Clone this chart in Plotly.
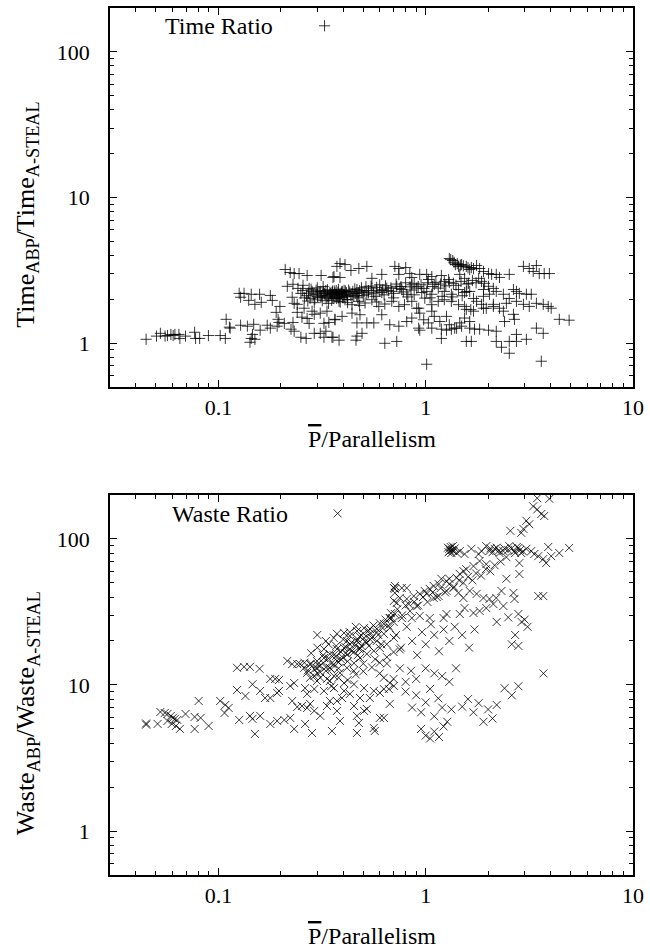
import plotly.graph_objects as go

# ---------------- data ----------------
time_ratio_points = [
    # far-left tail
    (0.0448,1.065),(0.0503,1.12),(0.0525,1.17),(0.0553,1.12),(0.0568,1.13),(0.059,1.15),(0.0605,1.13),
    (0.0617,1.15),(0.0645,1.15),(0.0652,1.08),(0.0694,1.12),(0.0768,1.19),(0.0776,1.08),(0.0812,1.08),
    (0.0895,1.13),(0.102,1.13),(0.108,1.08),(0.109,1.46),(0.113,1.29),
    # 0.11 - 0.37
    (0.210,3.21),(0.222,3.06),(0.232,3.01),(0.245,3.01),(0.268,2.92),(0.313,2.92),(0.357,2.83),
    (0.126,2.20),(0.133,2.20),(0.144,2.17),(0.158,2.17),(0.178,2.13),(0.128,2.07),(0.140,1.97),
    (0.150,1.85),(0.161,1.91),(0.182,1.97),(0.198,1.79),(0.190,1.63),(0.194,1.46),(0.196,1.39),
    (0.208,1.37),(0.229,1.39),
    (0.215,2.46),(0.229,2.54),(0.242,2.38),(0.256,2.50),(0.274,2.38),(0.227,2.07),(0.232,1.88),
    (0.240,1.85),(0.240,1.63),(0.253,1.51),(0.268,1.48),(0.274,1.37),(0.259,1.74),(0.283,1.66),
    (0.290,1.58),(0.310,1.61),(0.334,1.66),(0.323,1.37),(0.341,1.39),(0.365,1.46),
    (0.114,1.27),(0.128,1.33),(0.138,1.31),(0.148,1.35),(0.159,1.23),(0.172,1.33),(0.178,1.27),
    (0.192,1.31),(0.146,1.15),(0.144,1.08),(0.142,1.016),(0.150,1.065),(0.224,1.25),(0.232,1.21),
    (0.250,1.10),(0.265,1.08),(0.290,1.17),(0.310,1.17),(0.323,1.10),(0.330,1.21),(0.357,1.10),
    # dense band 0.25 - 0.5
    (0.266,2.12),(0.272,2.21),(0.277,2.04),(0.283,2.27),(0.287,2.15),(0.292,2.01),(0.296,2.31),
    (0.301,2.09),(0.306,2.22),(0.312,2.06),(0.317,1.96),(0.321,2.26),(0.327,2.14),(0.331,2.02),
    (0.336,2.33),(0.342,2.11),(0.347,2.19),(0.352,1.97),(0.356,2.07),(0.362,2.29),(0.368,2.16),
    (0.372,2.03),(0.377,2.24),(0.383,2.09),(0.387,1.92),(0.393,2.21),(0.398,2.06),(0.404,2.31),
    (0.30,2.18),(0.31,2.27),(0.315,2.12),(0.325,2.20),(0.33,2.30),(0.335,2.08),(0.345,2.24),
    (0.35,2.16),(0.355,2.28),(0.365,2.22),(0.375,2.12),(0.38,2.34),(0.385,2.18),(0.395,2.26),
    (0.405,2.15),(0.415,2.22),(0.425,2.32),(0.435,2.14),(0.445,2.27),(0.455,2.36),(0.465,2.12),
    (0.475,2.22),(0.49,2.40),(0.27,1.95),(0.29,1.90),(0.34,1.88),(0.30,2.40),(0.32,2.45),
    (0.28,2.35),(0.25,2.20),(0.255,2.30),(0.26,2.05),
    # 0.35 - 1.75
    (0.386,3.53),(0.408,3.47),(0.436,3.16),(0.476,3.26),(0.52,3.37),(0.361,2.87),(0.386,2.83),(0.373,3.37),
    (0.71,3.37),(0.742,3.26),(0.801,3.31),(0.742,2.97),(0.838,3.01),(0.857,2.83),(0.614,2.97),(0.55,2.79),
    (0.936,2.97),(1.011,2.97),(1.07,2.87),(1.19,2.92),(1.23,2.66),(1.29,2.74),(1.36,2.58),(1.10,2.54),(1.03,2.74),
    (1.30,3.82),(1.35,3.70),(1.39,3.47),(1.49,3.47),(1.57,3.37),(1.44,3.37),(1.63,3.21),
    (1.32,3.75),(1.37,3.60),(1.42,3.52),(1.47,3.44),(1.52,3.40),(1.60,3.30),(1.70,3.25),
    (1.46,2.97),(1.54,2.79),(1.61,2.58),
    (0.353,2.23),(0.373,2.17),(0.395,2.27),(0.417,2.10),(0.441,2.18),(0.466,2.34),(0.493,2.24),
    (0.52,2.17),(0.55,2.39),(0.581,2.31),(0.614,2.23),(0.649,2.39),(0.686,2.27),(0.725,2.46),
    (0.767,2.34),(0.81,2.17),(0.857,2.52),(0.905,2.39),(0.957,2.23),(1.011,2.27),(1.07,2.17),
    (1.15,2.39),(1.23,2.27),(1.33,2.17),(1.44,2.34),(1.54,2.23),(1.63,2.27),
    (0.36,2.15),(0.37,2.30),(0.38,2.05),(0.39,2.20),(0.40,2.12),(0.41,2.28),(0.42,2.00),(0.43,2.25),
    (0.45,2.10),(0.46,2.20),(0.47,2.05),(0.48,2.30),(0.50,2.12),(0.53,2.22),(0.57,2.10),(0.60,2.28),
    (0.63,2.15),(0.66,2.30),(0.70,2.20),(0.75,2.38),(0.78,2.25),(0.85,2.32),(0.92,2.45),(0.98,2.38),
    (0.505,2.28),(0.515,2.44),(0.53,2.30),(0.545,2.47),(0.56,2.21),(0.58,2.42),(0.60,2.52),(0.62,2.33),
    (0.64,2.48),(0.68,2.40),(0.72,2.55),(0.76,2.45),(0.80,2.60),(0.84,2.44),(0.88,2.58),(0.95,2.52),
    (1.02,2.60),(1.08,2.45),(1.12,2.62),(1.18,2.55),(1.25,2.48),(1.30,2.62),(1.40,2.50),(1.48,2.66),
    (1.58,2.55),(1.68,2.70),(1.75,2.60),(0.42,1.90),(0.48,1.82),(0.58,1.92),(0.70,2.05),(0.82,2.08),
    (0.88,2.15),(1.05,2.05),(1.20,2.10),(1.35,2.08),(1.50,2.12),
    (0.361,2.04),(0.382,1.94),(0.408,1.99),(0.441,1.84),(0.476,1.94),(0.51,1.89),(0.55,1.99),
    (0.594,1.79),(0.635,1.86),(0.686,1.94),(0.742,1.79),(0.79,1.84),(0.857,1.94),(0.925,1.74),
    (0.99,2.04),(1.07,1.84),(1.15,1.94),(1.23,1.99),(1.33,1.94),(1.44,1.84),(1.54,1.79),(1.65,1.70),
    (0.365,1.45),(0.395,1.53),(0.441,1.61),(0.466,1.38),(0.482,1.57),(0.52,1.38),(0.562,1.38),
    (0.614,1.57),(0.671,1.34),(0.742,1.31),(0.81,1.41),(0.857,1.49),(0.905,1.74),(0.936,1.61),
    (0.978,1.45),(1.07,1.66),(1.10,1.53),(1.17,1.41),(1.26,1.53),(1.30,1.34),(1.38,1.27),(1.46,1.38),
    (1.54,1.49),(1.63,1.41),(0.925,1.27),(1.03,1.38),
    (0.353,1.10),(0.382,1.05),(0.466,1.12),(0.461,1.05),(0.493,1.17),(0.635,1.00),(0.725,1.03),
    (1.19,1.08),(1.57,1.03),(1.011,0.718),(0.936,1.23),(1.07,1.27),(1.19,1.25),(1.26,1.23),
    (1.33,1.25),(1.41,1.27),(1.49,1.31),
    # 1.65 - 5
    (1.76,3.42),(1.82,3.26),(1.90,3.11),(2.01,3.01),(2.08,2.97),(2.19,2.97),(2.27,2.83),(2.53,2.97),(1.66,3.31),
    (1.80,2.79),(1.86,2.66),(1.92,2.58),(2.01,2.46),(2.12,2.38),(1.90,2.34),
    (2.96,3.37),(3.16,3.26),(3.42,3.42),(3.30,3.11),(3.53,3.01),(3.73,3.01),(3.95,3.01),
    (2.65,2.34),(2.74,2.27),(2.83,2.20),(3.06,2.17),(3.23,2.17),
    (2.74,1.94),(2.96,1.85),(3.16,1.79),(3.42,1.88),(3.69,1.85),(3.90,1.79),(4.03,1.74),
    (4.41,1.46),(4.92,1.44),(3.42,1.27),(3.69,1.17),
    (2.74,1.15),(2.53,1.03),(2.74,1.03),(3.06,1.065),(2.32,0.939),(2.53,0.854),(3.61,0.753),
    (1.66,1.03),(2.19,1.03),
    (1.63,1.27),(1.72,1.25),(1.82,1.25),(2.01,1.23),(2.19,1.21),(2.40,1.41),(2.68,1.46),
    (1.57,1.71),(1.70,1.66),(1.90,1.74),(2.12,1.79),(2.37,1.66),(2.65,1.58),
    (1.76,1.94),(1.86,1.85),(1.96,1.74),(2.12,1.85),(2.27,1.74),(2.45,1.88),(2.19,2.27),(2.37,2.17),
    (2.03,2.17),(2.53,2.03),(1.90,2.10),(1.70,2.03),(1.57,2.27),
]

waste_ratio_points = [
    # far-left group
    (0.0448,5.45),(0.0448,5.35),(0.0509,5.41),(0.0525,6.53),(0.0551,6.43),(0.0568,6.33),(0.059,6.14),
    (0.0603,5.95),(0.0617,5.86),(0.0634,5.76),(0.0568,5.67),(0.0596,5.41),(0.0624,5.24),(0.0652,5.00),
    (0.0694,6.33),(0.0768,5.00),(0.0768,6.04),(0.0821,5.95),(0.0803,7.77),(0.0897,5.24),
    (0.102,7.77),(0.108,7.30),(0.112,6.96),(0.107,6.43),(0.126,5.76),(0.123,9.23),(0.135,8.41),
    (0.123,13.1),(0.133,13.3),(0.142,13.3),(0.158,12.9),(0.146,10.1),(0.159,9.10),(0.168,8.14),
    (0.178,8.14),(0.192,8.82),(0.196,9.10),(0.178,11.0),(0.188,11.0),(0.196,10.8),
    (0.142,6.14),(0.146,5.86),(0.150,4.62),(0.159,6.14),(0.178,5.41),(0.192,5.67),(0.208,5.76),
    (0.222,5.95),(0.232,5.00),(0.227,7.77),(0.222,9.84),(0.232,10.3),(0.215,14.6),(0.227,13.9),
    (0.240,13.9),(0.248,13.9),(0.262,9.52),(0.268,8.68),(0.240,7.07),(0.253,7.18),(0.268,6.96),
    (0.277,7.42),(0.262,5.41),(0.283,4.69),(0.290,6.64),(0.310,6.14),(0.334,7.18),(0.345,7.77),
    (0.373,7.77),(0.395,8.14),(0.353,4.84),(0.373,6.64),(0.386,5.67),(0.451,7.18),(0.466,6.14),
    (0.476,5.49),(0.466,4.69),(0.504,6.64),(0.520,6.85),(0.562,5.08),(0.568,4.84),(0.601,5.95),
    (0.628,5.95),(0.671,7.42),
    # dense central blob
    (0.259,13.1),(0.277,13.9),(0.299,14.6),(0.323,15.3),(0.345,16.3),(0.373,17.6),(0.404,17.9),
    (0.431,19.0),(0.466,20.0),(0.504,21.0),(0.538,22.4),(0.581,24.2),(0.628,26.2),(0.671,28.7),
    (0.710,30.6),(0.268,12.1),(0.290,11.5),(0.310,11.2),(0.334,11.0),(0.361,11.5),(0.386,12.1),
    (0.417,13.1),(0.451,14.1),(0.482,15.3),(0.520,16.3),(0.562,17.1),(0.601,17.9),(0.649,19.0),
    (0.702,21.0),(0.345,10.65),(0.404,10.3),(0.451,10.1),(0.504,9.52),(0.562,9.10),(0.628,9.38),
    (0.671,10.3),(0.628,11.2),(0.373,22.4),(0.404,22.7),(0.431,21.7),(0.466,23.4),(0.504,24.5),
    (0.538,24.2),(0.417,20.0),(0.482,17.9),(0.532,18.5),(0.581,20.0),(0.628,22.4),(0.671,24.5),
    (0.323,17.6),(0.345,13.1),(0.373,14.6),(0.299,13.1),(0.277,11.2),(0.299,10.65),(0.290,9.38),
    (0.323,9.10),(0.361,9.52),(0.404,9.10),(0.431,8.68),(0.482,8.14),(0.538,8.14),(0.601,8.82),
    (0.664,9.38),(0.702,9.84),
    (0.31,13.5),(0.33,12.5),(0.35,14.0),(0.36,16.0),(0.38,13.0),(0.39,15.0),(0.41,16.5),(0.42,14.5),
    (0.44,17.0),(0.45,12.5),(0.47,16.0),(0.49,18.5),(0.50,14.0),(0.52,19.5),(0.55,21.0),(0.57,15.0),
    (0.59,22.0),(0.61,19.0),(0.37,18.5),(0.40,20.5),(0.43,23.0),(0.46,25.0),(0.48,21.5),(0.34,19.0),
    (0.32,16.0),(0.28,14.0),(0.30,12.0),
    (0.29,12.8),(0.30,13.8),(0.31,12.2),(0.32,14.2),(0.33,13.2),(0.34,15.2),(0.35,12.8),(0.36,13.8),
    (0.37,15.8),(0.38,14.3),(0.39,16.8),(0.40,15.3),(0.41,18.2),(0.42,16.2),(0.43,17.6),(0.44,19.5),
    (0.45,16.8),(0.46,18.8),(0.47,20.5),(0.48,17.5),(0.50,22.5),(0.51,19.8),(0.53,23.5),(0.54,20.5),
    (0.56,25.5),(0.58,23.0),(0.60,26.5),(0.62,24.5),(0.64,28.0),(0.66,25.5),(0.68,31.0),(0.70,27.0),
    (0.35,9.8),(0.38,11.2),(0.42,10.8),(0.46,11.8),(0.50,12.4),(0.55,13.2),(0.60,14.2),(0.65,15.5),
    (0.70,16.8),(0.75,17.5),(0.28,16.5),(0.30,18.0),(0.33,20.0),(0.36,21.0),(0.30,22.0),(0.27,12.6),
    (0.26,14.2),
    # diagonal up to 2.5
    (0.73,33),(0.77,30),(0.80,35),(0.84,32),(0.88,37),(0.92,35),(0.97,40),(1.02,37),(1.08,43),
    (1.13,40),(1.18,46),(1.24,43),(1.30,49),(1.37,47),(1.45,52),(1.52,50),(1.60,55),(1.68,52),
    (1.75,58),(1.85,56),(1.95,62),(2.05,60),(2.15,66),(2.30,70),(2.45,75),
    # upper right
    (3.45,190),(3.95,188),(3.30,167),(3.45,159),(3.61,148),(3.73,143.5),(3.06,133),(3.16,126),
    (2.96,117),(2.56,113.5),(2.89,110),
    (1.30,85.5),(1.36,82.5),(1.41,80.0),(1.46,82.5),(1.54,78.7),(1.66,85.5),(1.80,78.7),(1.86,82.5),
    (1.96,89.2),(2.03,82.5),(2.15,85.5),(2.27,80.0),(2.37,82.5),(2.53,89.2),(2.68,82.5),(2.80,86.7),
    (2.89,80.0),(3.06,85.5),(3.23,82.5),(3.34,78.7),(3.49,76.2),(3.69,72.8),(3.90,88.0),(4.03,76.2),
    (3.81,68.3),(4.41,80.0),(4.92,86.7),
    (1.32,88),(1.34,84),(1.38,86),(1.33,80),(2.60,86),(2.70,80),(2.75,88),(2.85,84),(2.95,82),
    (1.28,87),(1.31,83),(1.35,89),(1.29,81),(2.05,86),(2.10,81),(2.20,87),(2.25,83),(2.40,86),(2.50,84),
    (1.96,67.1),(1.82,70.5),(1.70,65.1),(1.57,62.0),(1.52,60.2),(1.46,57.5),(1.41,54.2),(1.30,53.3),
    (1.26,51.4),(1.19,53.3),(1.155,49.1),(1.093,47.6),(1.045,45.5),(0.989,44.0),(0.936,42.0),
    (0.876,40.6),(0.810,38.8),(0.767,46.1),(0.710,47.6),(0.750,39.4),(0.702,37.6),
    (2.83,68.3),(2.83,57.5),(2.45,53.3),
    (0.710,45.5),(0.810,46.1),(0.725,36.4),(0.828,35.8),(0.905,34.7),(1.011,42.0),(1.093,39.4),
    (1.155,40.6),(1.26,44.0),(1.36,46.1),(1.44,42.7),(1.52,39.4),(1.63,44.0),(1.76,42.0),(1.90,39.4),
    (2.03,38.8),(2.19,39.4),(2.32,44.0),(2.65,42.7),(2.68,38.8),(2.37,34.7),(2.12,35.8),(1.96,33.6),
    (1.82,32.1),(1.70,31.1),(1.54,33.6),(1.46,30.6),(1.26,30.6),(1.22,28.7),(1.045,28.7),(0.936,29.7),
    (0.857,28.7),(0.767,28.7),(0.686,28.7),(2.80,30.6),(3.49,40.6),(3.69,40.6),
    (0.702,46.1),(0.71,42.7),(0.671,28.7),
    # lower right
    (0.72,22),(0.76,18),(0.81,25),(0.86,20),(0.91,16),(0.96,23),(1.0,19),(1.06,26),(1.1,22),
    (1.16,17),(1.22,24),(1.3,20),(1.38,25),(1.5,22),(1.62,18),(1.72,24),
    (2.2,27),(2.5,29),(2.7,22),(2.9,27),(3.0,28),(2.6,19),(2.8,18.5),(3.1,25),(3.7,12),
    (0.8,9),(0.86,7),(0.9,8.5),(0.95,6.5),(1.0,7.6),(1.05,9.4),(1.1,6.1),(1.15,8.1),(1.2,7),
    (1.27,5.6),(1.33,6.8),
    (0.95,5.0),(1.0,4.5),(1.05,4.3),(1.1,4.8),(1.16,4.4),(1.22,5.2),
    (1.5,7.1),(1.6,8),(1.7,6.5),(1.8,7.5),(2.0,6.8),(2.2,7.3),(1.9,5.6),(2.1,5.9),
    (2.4,9.5),(2.6,8.5),(2.8,9.8),
    (0.6,12),(0.65,14),(0.7,11),(0.75,13),(0.8,10.5),(0.85,12.5),(0.9,11),(1.0,13),(1.1,12),
    (1.2,11.5),(1.3,10.5),(1.4,13),
]

x_tick_vals = [0.1, 1, 10]
x_tick_text = ["0.1", "1", "10"]
y_tick_vals = [1, 10, 100]
y_tick_text = ["1", "10", "100"]
x_minor_vals = [0.03,0.04,0.05,0.06,0.07,0.08,0.09,0.2,0.3,0.4,0.5,0.6,0.7,0.8,0.9,2,3,4,5,6,7,8,9]
y_minor_vals = [0.5,0.6,0.7,0.8,0.9,2,3,4,5,6,7,8,9,20,30,40,50,60,70,80,90,200]

time_x = [p[0] for p in time_ratio_points]
time_y = [p[1] for p in time_ratio_points]
waste_x = [p[0] for p in waste_ratio_points]
waste_y = [p[1] for p in waste_ratio_points]

FONT = "Liberation Serif"

fig = go.Figure()
fig.add_trace(go.Scatter(
    x=time_x, y=time_y, mode="markers", name=" ", xaxis="x", yaxis="y", legend="legend",
    marker=dict(symbol="cross-thin", size=8, color="black",
                line=dict(width=1, color="rgba(0,0,0,0.78)")),
))
fig.add_trace(go.Scatter(
    x=waste_x, y=waste_y, mode="markers", name=" ", xaxis="x2", yaxis="y2", legend="legend2",
    marker=dict(symbol="x-thin", size=8, color="black",
                line=dict(width=1, color="rgba(0,0,0,0.78)")),
))

def xax(anchor):
    return dict(type="log", range=[-1.5229, 1.0], anchor=anchor, domain=[0, 1],
                tickmode="array", tickvals=x_tick_vals, ticktext=x_tick_text,
                ticks="inside", ticklen=7, tickwidth=1, tickcolor="black",
                showline=True, linecolor="black", linewidth=1.5, mirror="ticks",
                showgrid=False, zeroline=False,
                tickfont=dict(family=FONT, size=22, color="black"),
                minor=dict(tickmode="array", tickvals=x_minor_vals, ticks="inside",
                           ticklen=4, tickwidth=1, tickcolor="black", showgrid=False))

def yax(anchor, dom):
    return dict(type="log", range=[-0.30103, 2.30103], anchor=anchor, domain=dom,
                tickmode="array", tickvals=y_tick_vals, ticktext=y_tick_text,
                ticks="inside", ticklen=7, tickwidth=1, tickcolor="black",
                showline=True, linecolor="black", linewidth=1.5, mirror="ticks",
                showgrid=False, zeroline=False, ticklabelstandoff=14,
                tickfont=dict(family=FONT, size=22, color="black"),
                minor=dict(tickmode="array", tickvals=y_minor_vals, ticks="inside",
                           ticklen=4, tickwidth=1, tickcolor="black", showgrid=False))

fig.update_layout(
    width=650, height=952,
    margin=dict(l=110, r=16, t=6, b=77),
    paper_bgcolor="white", plot_bgcolor="white",
    font=dict(family=FONT, size=22, color="black"),
    xaxis=xax("y"),
    yaxis=yax("x", [0.5627, 1.0]),
    xaxis2=xax("y2"),
    yaxis2=yax("x2", [0.0, 0.4384]),
    showlegend=True,
    legend=dict(x=0.372, y=0.979, xanchor="left", yanchor="middle",
                bgcolor="rgba(0,0,0,0)", itemwidth=30, font=dict(size=14)),
    legend2=dict(x=0.397, y=0.4166, xanchor="left", yanchor="middle",
                 bgcolor="rgba(0,0,0,0)", itemwidth=30, font=dict(size=14)),
)

ann_font = dict(family=FONT, size=24, color="black")
title_font = dict(family=FONT, size=26, color="black")
xtitle = ('<span style="font-family:Liberation Serif;text-decoration:overline">P</span>'
          '<span style="font-family:Liberation Serif">/Parallelism</span>')
fig.add_annotation(text="Time Ratio", xref="paper", yref="paper", x=0.315, y=0.979,
                   xanchor="right", yanchor="middle", showarrow=False, font=ann_font)
fig.add_annotation(text="Waste Ratio", xref="paper", yref="paper", x=0.3435, y=0.4166,
                   xanchor="right", yanchor="middle", showarrow=False, font=ann_font)
fig.add_annotation(text=xtitle, xref="paper", yref="paper", x=0.5, y=0.503,
                   xanchor="center", yanchor="middle", showarrow=False, font=ann_font)
fig.add_annotation(text=xtitle, xref="paper", yref="paper", x=0.5, y=-0.0702,
                   xanchor="center", yanchor="middle", showarrow=False, font=ann_font)
fig.add_annotation(text="Time<sub>ABP</sub>/Time<sub>A-STEAL</sub>", xref="paper", yref="paper",
                   x=-0.158, y=0.762, xanchor="center", yanchor="middle", textangle=-90,
                   showarrow=False, font=title_font)
fig.add_annotation(text="Waste<sub>ABP</sub>/Waste<sub>A-STEAL</sub>", xref="paper", yref="paper",
                   x=-0.158, y=0.187, xanchor="center", yanchor="middle", textangle=-90,
                   showarrow=False, font=title_font)

fig.write_html("out.html", config={"displayModeBar": False},
               post_script="document.body.style.margin='0';")
